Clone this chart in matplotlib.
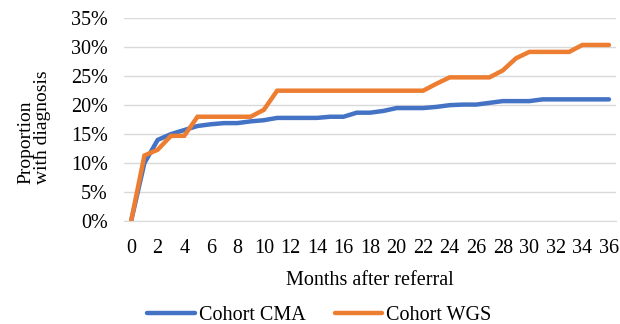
import numpy as np
import matplotlib
matplotlib.use("Agg")
import matplotlib.pyplot as plt
from matplotlib.ticker import FuncFormatter

# Months after referral (category axis)
months = list(range(0, 37))

# Proportion with diagnosis (%)
cma = [0.0, 10.0, 14.0, 15.0, 15.7, 16.4, 16.7, 16.9, 16.9, 17.2,
       17.4, 17.8, 17.8, 17.8, 17.8, 18.0, 18.0, 18.7, 18.7, 19.0,
       19.5, 19.5, 19.5, 19.7, 20.0, 20.1, 20.1, 20.4, 20.7, 20.7,
       20.7, 21.0, 21.0, 21.0, 21.0, 21.0, 21.0]
wgs = [0.0, 11.3, 12.3, 14.7, 14.7, 18.0, 18.0, 18.0, 18.0, 18.0,
       19.2, 22.5, 22.5, 22.5, 22.5, 22.5, 22.5, 22.5, 22.5, 22.5,
       22.5, 22.5, 22.5, 23.7, 24.8, 24.8, 24.8, 24.8, 26.0, 28.1,
       29.2, 29.2, 29.2, 29.2, 30.4, 30.4, 30.4]

series_names = ["Cohort CMA", "Cohort WGS"]
colors = ["#4472C4", "#ED7D31"]

plt.rcParams["font.family"] = ["Liberation Serif", "DejaVu Serif"]
FS = 14.5

fig = plt.figure(figsize=(6.2, 3.24), dpi=100)
ax = fig.add_axes([0.2008, 0.318, 0.7921, 0.6255])

for vals, name, c in zip([cma, wgs], series_names, colors):
    ax.plot(months, vals, color=c, lw=3.2, label=name,
            solid_joinstyle="miter", solid_capstyle="round")

ax.set_xlim(-0.5, 36.5)
ax.set_ylim(0, 35)
ax.set_yticks(np.arange(0, 36, 5))
ax.yaxis.set_major_formatter(FuncFormatter(lambda v, p: f"{v:.0f}%"))
ax.set_xticks(months[::2])
ax.grid(axis="y", color="#D9D9D9", lw=1.0)
ax.set_axisbelow(True)
for s in ["top", "right", "left"]:
    ax.spines[s].set_visible(False)
ax.spines["bottom"].set_color("#D9D9D9")
ax.tick_params(axis="both", length=0, labelsize=FS, colors="#000000")
ax.tick_params(axis="x", pad=13)
ax.tick_params(axis="y", pad=12)

ax.set_xlabel("Months after referral", fontsize=FS, labelpad=9)
fig.text(0.055, 0.6065, "Proportion\nwith diagnosis", rotation=90,
         ha="center", va="center", multialignment="left",
         fontsize=14, linespacing=0.95)

fig.legend(loc="center", bbox_to_anchor=(0.515, 0.027), ncol=2,
           frameon=False, fontsize=FS, handlelength=2.35,
           handletextpad=0.2, columnspacing=1.45)

fig.savefig("out.png", dpi=100)
